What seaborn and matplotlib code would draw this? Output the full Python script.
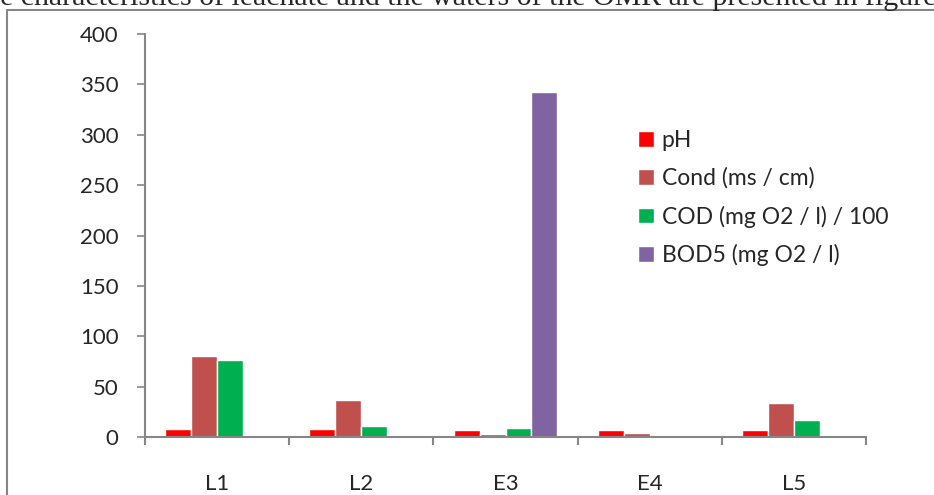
import pandas as pd
import matplotlib.pyplot as plt
import matplotlib.patches as mpatches
import seaborn as sns

# Data
sites = ["L1", "L2", "E3", "E4", "L5"]
series = ["pH", "Cond (ms / cm)", "COD (mg O2 / l) / 100", "BOD5 (mg O2 / l)"]
ph = [7.6, 7.6, 7.0, 7.0, 7.3]
cond = [80.5, 36.5, 2.5, 4.0, 34.0]
cod = [76.5, 11.0, 8.5, 0.0, 17.0]
bod5 = [0.0, 0.0, 342.0, 0.0, 0.0]
colors = ["#FF0000", "#C0504D", "#00B050", "#8064A2"]
yticks = [0, 50, 100, 150, 200, 250, 300, 350, 400]

df = pd.DataFrame({
    "site": sites * 4,
    "param": [s for s in series for _ in sites],
    "value": ph + cond + cod + bod5,
})

sns.set_style("white")
plt.rcParams["font.family"] = ["Lato", "DejaVu Sans"]

fig = plt.figure(figsize=(9.34, 4.95), dpi=100)
ax = fig.add_axes([145 / 934, 1 - 437 / 495, 721 / 934, 403 / 495])

sns.barplot(data=df, x="site", y="value", hue="param", order=sites,
            hue_order=series, palette=colors, width=0.72, gap=0,
            saturation=1, dodge=True, ax=ax, errorbar=None)

ax.set_xlim(-0.5, len(sites) - 0.5)
ax.set_ylim(0, 400)
ax.set_yticks(yticks)
ax.set_xlabel("")
ax.set_ylabel("")

grey = "#868686"
for side in ["top", "right"]:
    ax.spines[side].set_visible(False)
for side in ["left", "bottom"]:
    ax.spines[side].set_color(grey)
    ax.spines[side].set_linewidth(1.5)

ax.tick_params(axis="y", direction="out", length=6, width=1.2, color=grey,
               pad=13, labelsize=16, left=True)
ax.tick_params(axis="x", which="major", length=0, pad=27, labelsize=16)
ax.set_xticks([i - 0.5 for i in range(len(sites) + 1)], minor=True)
ax.tick_params(axis="x", which="minor", direction="out", length=6, width=1.5,
               color=grey, bottom=True)

leg = ax.legend(loc="center left", bbox_to_anchor=(638 / 934, 1 - 198 / 495),
                bbox_transform=fig.transFigure, frameon=False, fontsize=16.5,
                handlelength=0.68, handleheight=0.68, handletextpad=0.35,
                labelspacing=0.72, borderpad=0, borderaxespad=0)

# document page frame and clipped paragraph text above the chart
fig.add_artist(mpatches.Rectangle((7 / 934, -0.1), 1.2, 1.1 - 10 / 495,
                                  transform=fig.transFigure, fill=False,
                                  edgecolor=grey, linewidth=1.5))
fig.text(-33 / 934, 1 - 5 / 495,
         "The characteristics of leachate and the waters of the OMR are presented in figure 6",
         family="Liberation Serif", fontsize=21.5, va="baseline", ha="left")

fig.savefig("out.png", dpi=100)
